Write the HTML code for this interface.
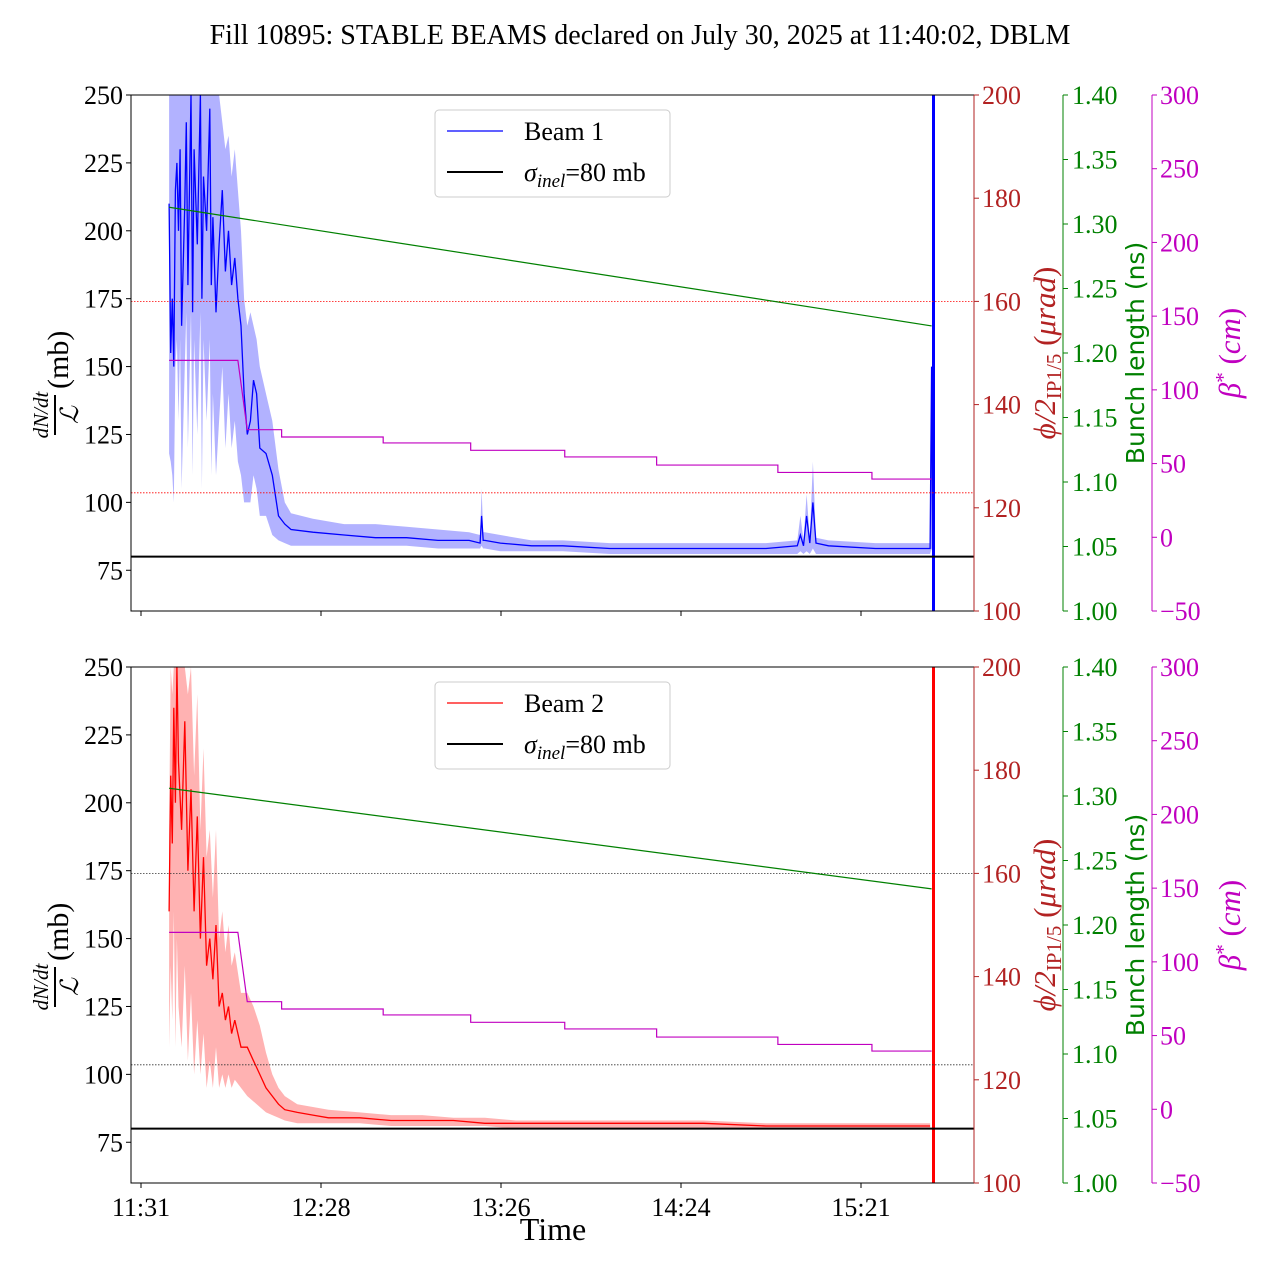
<!DOCTYPE html>
<html><head><meta charset="utf-8">
<style>
body{margin:0;background:#fff;}
svg text{font-family:"Liberation Serif",serif;}
</style></head>
<body>
<svg id="chart" width="1280" height="1280" xmlns="http://www.w3.org/2000/svg">
<text x="640" y="44" text-anchor="middle" font-size="28">Fill 10895: STABLE BEAMS declared on July 30, 2025 at 11:40:02, DBLM</text>
<text x="553" y="1240" text-anchor="middle" font-size="32">Time</text>
</svg>
<script>
// ---- data (time in minutes since 11:31) ----
const xTickLabels = ["11:31","12:28","13:26","14:24","15:21"];
const xTickMinutes = [0,57.6,115.2,172.8,230.4];
const leftTicks = [75,100,125,150,175,200,225,250];
const redTicks = [100,120,140,160,180,200];
const greenTicks = [1.00,1.05,1.10,1.15,1.20,1.25,1.30,1.35,1.40];
const magTicks = [-50,0,50,100,150,200,250,300];

const b1T  = [9,9.5,10,10.5,11,11.5,12,12.5,13,14,14.5,15,16,16.5,17,18,19,19.5,20,21,22,22.5,23,24,25,26,27,28,29,30,31,32,33,34,35,36,37,38,40,42,44,46,48,55,65,75,85,95,105,108.5,109,109.5,110,115,125,135,150,165,175,190,200,210,211,212,213,214,215,216,220,235,252.5,253,253.3];
const b1Mean=[210,155,175,150,215,225,200,230,165,210,240,180,250,170,230,195,250,175,220,200,245,180,205,170,195,215,185,200,180,190,175,165,140,125,130,145,140,120,118,110,95,92,90,89,88,87,87,86,86,85,95,86,86,85,84,84,83,83,83,83,83,84,88,84,95,85,100,85,84,83,83,150,83];
const b1Hi = [250,250,250,250,250,250,250,250,250,250,250,250,250,250,250,250,250,250,250,250,250,250,250,250,250,240,230,235,220,230,215,200,175,165,170,165,160,150,140,130,112,100,96,94,92,92,91,90,89,88,105,89,89,88,86,86,85,85,85,85,85,86,95,86,103,87,115,87,86,85,85,150,85];
const b1Lo = [118,115,110,100,150,160,130,160,105,150,170,120,170,110,160,125,170,105,160,130,160,110,140,110,130,150,120,140,120,130,115,110,100,100,100,110,105,95,95,88,86,85,84,84,84,84,84,83,83,83,84,83,83,82,82,82,81,81,81,81,81,81,82,81,82,81,83,81,81,81,81,83,81];

const b2T  = [9,9.5,10,10.5,11,11.5,12,13,14,15,16,17,18,19,20,21,22,23,24,25,26,27,28,29,30,32,34,36,38,40,42,44,46,50,55,60,70,80,90,100,110,120,140,160,180,200,220,240,252.5];
const b2Mean=[160,210,185,235,200,250,215,190,230,175,205,160,195,150,180,140,150,135,155,125,130,120,125,115,120,110,110,105,100,95,92,89,87,86,85,84,84,83,83,83,82,82,82,82,82,81,81,81,81];
const b2Hi = [190,250,240,250,250,250,250,250,250,240,250,210,240,190,220,180,190,165,190,150,160,145,155,140,145,130,130,125,118,108,100,95,92,89,88,87,86,85,85,84,84,83,83,83,83,82,82,82,82];
const b2Lo = [110,140,120,160,110,150,125,110,140,105,130,100,120,100,115,95,105,95,110,95,100,95,100,95,98,95,92,90,88,86,85,84,83,82,82,82,82,81,81,81,81,80,80,80,80,80,80,80,80];

const greenT1=[9,253], greenV1=[1.313,1.221];
const greenT2=[9,253], greenV2=[1.306,1.228];
const betaT=[9,31,34,45,77.5,105.5,135.6,165,203.8,233.9,253];
const betaV=[120,120,73,68,64,59,54.5,49,44,39.5,39.5];
const phiLines=[160,122.9];
const sigmaInel=80;

// ---- drawing ----
const NS="http://www.w3.org/2000/svg";
const svg=document.getElementById('chart');
const X0=131,X1=974;
const xs=t=>141+t*3.125;
function el(tag,attrs,parent){const e=document.createElementNS(NS,tag);for(const k in attrs)e.setAttribute(k,attrs[k]);(parent||svg).appendChild(e);return e;}
function txt(x,y,s,attrs,parent){const e=el('text',Object.assign({x:x,y:y},attrs),parent);e.textContent=s;return e;}

function panel(idx,top,T,M,Hi,Lo,col,fill,dotCol,gT,gV,name,showX){
  const bot=top+516;
  const yL=v=>top+(250-v)*516/190;
  const yR=v=>top+(200-v)*5.16;
  const yG=v=>top+(1.4-v)*1290;
  const yM=v=>top+(300-v)*516/350;
  const g=el('g',{});
  
  
  const cid='clip'+idx;
  const cp=el('clipPath',{id:cid},g);el('rect',{x:X0,y:top,width:X1-X0,height:516},cp);
  const pg=el('g',{'clip-path':'url(#'+cid+')'},g);
  let d='M'+T.map((t,i)=>xs(t).toFixed(1)+','+yL(Hi[i]).toFixed(1)).join('L');
  for(let i=T.length-1;i>=0;i--)d+='L'+xs(T[i]).toFixed(1)+','+yL(Lo[i]).toFixed(1);
  const band=el('path',{d:d+'Z',fill:fill,'fill-opacity':0.3,stroke:'none'},pg);
  
  
  const ln=el('polyline',{points:T.map((t,i)=>xs(t).toFixed(1)+','+yL(M[i]).toFixed(1)).join(' '),fill:'none',stroke:col,'stroke-width':1.3},pg);
  
  
  const vl=el('line',{x1:xs(253.6),x2:xs(253.6),y1:top,y2:bot,stroke:col,'stroke-width':3},pg);
  
  
  const sl=el('line',{x1:X0,x2:X1,y1:yL(sigmaInel),y2:yL(sigmaInel),stroke:'#000','stroke-width':2},pg);
  
  
  phiLines.forEach(v=>{const l=el('line',{x1:X0,x2:X1,y1:yR(v),y2:yR(v),stroke:dotCol,'stroke-width':0.8,'stroke-dasharray':'1.5,1.5'},pg);
    
    });
  const gl=el('polyline',{points:gT.map((t,i)=>xs(t)+','+yG(gV[i])).join(' '),fill:'none',stroke:'green','stroke-width':1.2},pg);
  
  
  const bp=[];
  for(let i=0;i<betaT.length;i++){
    bp.push(xs(betaT[i])+','+yM(betaV[i]));
    if(i>=2 && i<betaT.length-1) bp.push(xs(betaT[i+1])+','+yM(betaV[i]));
  }
  const ml=el('polyline',{points:bp.join(' '),fill:'none',stroke:'#c000c0','stroke-width':1.2},pg);
  
  
  el('rect',{x:X0,y:top,width:X1-X0,height:516,fill:'none',stroke:'#000','stroke-width':1},g);
  leftTicks.forEach(v=>{const y=yL(v);el('line',{x1:X0-5,x2:X0,y1:y,y2:y,stroke:'#000'},g);
    const t=txt(X0-8,y+9,String(v),{'font-size':26,'text-anchor':'end'},g);
    });
  xTickMinutes.forEach((m,i)=>{const x=xs(m);el('line',{x1:x,x2:x,y1:bot,y2:bot+5,stroke:'#000'},g);
    if(showX){const t=txt(x,bot+33,xTickLabels[i],{'font-size':26,'text-anchor':'middle'},g);
      }});
  el('line',{x1:974,x2:974,y1:top,y2:bot,stroke:'#b22222'},g);
  redTicks.forEach(v=>{const y=yR(v);el('line',{x1:974,x2:979,y1:y,y2:y,stroke:'#b22222'},g);
    const t=txt(982,y+9,String(v),{'font-size':26,fill:'#b22222'},g);
    });
  el('line',{x1:1063,x2:1063,y1:top,y2:bot,stroke:'green'},g);
  greenTicks.forEach(v=>{const y=yG(v);el('line',{x1:1063,x2:1068,y1:y,y2:y,stroke:'green'},g);
    const t=txt(1072,y+9,v.toFixed(2),{'font-size':26,fill:'green'},g);
    });
  el('line',{x1:1152,x2:1152,y1:top,y2:bot,stroke:'#c000c0'},g);
  magTicks.forEach(v=>{const y=yM(v);el('line',{x1:1152,x2:1157,y1:y,y2:y,stroke:'#c000c0'},g);
    const t=txt(1160,y+9,(v<0?'\u2212'+(-v):String(v)),{'font-size':26,fill:'#c000c0'},g);
    });
  const cy=top+258;
  const lt=el('g',{transform:'translate(60,'+cy+') rotate(-90)'},g);
  
  txt(-62,-12,'dN/dt',{'font-size':21,'font-style':'italic','text-anchor':'middle'},lt);
  el('line',{x1:-82,x2:-42,y1:-5,y2:-5,stroke:'#000','stroke-width':2},lt);
  txt(-62,18,'\u2112',{'font-size':25,'font-style':'italic','text-anchor':'middle'},lt);
  txt(-36,8,'(mb)',{'font-size':30},lt);
  const rt=txt(0,0,'',{'font-size':31,fill:'#b22222','text-anchor':'middle',transform:'translate(1055,'+cy+') rotate(-90)'},g);
  rt.innerHTML='<tspan font-style="italic">\u03d5/2</tspan><tspan font-size="21" dy="6">IP1/5</tspan><tspan dy="-6"> (</tspan><tspan font-style="italic">\u03bcrad</tspan>)';
  
  const gtt=txt(0,0,'Bunch length (ns)',{'font-size':27,fill:'green','text-anchor':'middle',transform:'translate(1144,'+cy+') rotate(-90)'},g);
  gtt.setAttribute('style','font-family:"DejaVu Sans",sans-serif;font-size:25px');
  
  const mt=txt(0,0,'',{'font-size':31,fill:'#c000c0','text-anchor':'middle',transform:'translate(1240,'+cy+') rotate(-90)'},g);
  mt.innerHTML='<tspan font-style="italic">\u03b2</tspan><tspan dy="-10" font-size="21">*</tspan><tspan dy="10"> (</tspan><tspan font-style="italic">cm</tspan>)';
  
  const lg=el('g',{},g);
  
  el('rect',{x:435,y:top+15,width:235,height:87,rx:4,fill:'#fff',stroke:'#ccc'},lg);
  el('line',{x1:447,x2:503,y1:top+36,y2:top+36,stroke:col,'stroke-width':1.3},lg);
  txt(524,top+45,name==='beam-1'?'Beam 1':'Beam 2',{'font-size':26},lg);
  el('line',{x1:447,x2:503,y1:top+77,y2:top+77,stroke:'#000','stroke-width':2},lg);
  const st=txt(524,top+86,'',{'font-size':26},lg);
  st.innerHTML='<tspan font-style="italic">\u03c3</tspan><tspan font-style="italic" font-size="19" dy="6">inel</tspan><tspan dy="-6">=80 mb</tspan>';
}
panel(1,95,b1T,b1Mean,b1Hi,b1Lo,'#0000ff','#0000ff','#ff0000',greenT1,greenV1,'beam-1',false);
panel(2,667,b2T,b2Mean,b2Hi,b2Lo,'#ff0000','#ff0000','#333333',greenT2,greenV2,'beam-2',true);
</script>
</body></html>
